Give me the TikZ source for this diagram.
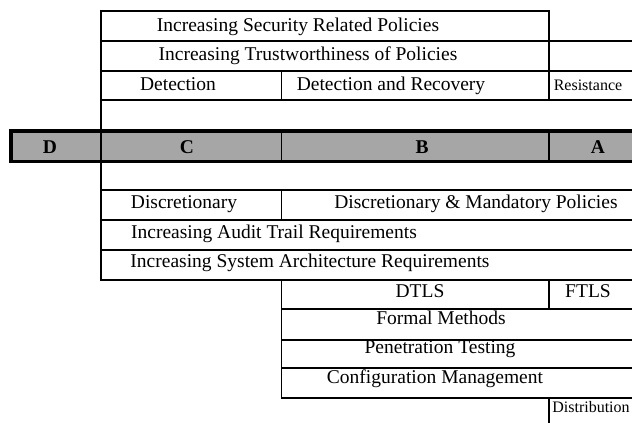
\documentclass[tikz,border=0pt]{standalone}
\usepackage{fontspec}
\setmainfont{Liberation Serif}
\begin{document}
\begin{tikzpicture}[x=1pt,y=-1pt,line width=1.4pt,line cap=rect,
  txt/.style={anchor=base,inner sep=0pt,font=\fontsize{19.5}{20}\selectfont},
  smalltxt/.style={anchor=base,inner sep=0pt,font=\fontsize{16}{17}\selectfont},
  grade/.style={anchor=base,inner sep=0pt,font=\fontsize{19.5}{20}\selectfont\bfseries}]
\useasboundingbox (0,0) rectangle (632,423);

% draw shaded division band
\fill[black!35] (11,131) rectangle (640,161.5);

% draw horizontal rules
\draw (101,11) -- (549,11);
\foreach \y in {41,71,100,190,220,250,280}
{
\draw (101,\y) -- (640,\y);
}
\foreach \y in {309,340,368,398}
{
\draw (281.5,\y) -- (640,\y);
}

% draw vertical rules
\foreach \x/\ya/\yb in {101/11/280, 549/11/100, 281.5/71/100, 281.5/131/161.5,
  549/131/161.5, 281.5/190/220, 281.5/280/398, 549/280/309, 549/398/430}
{
\draw (\x,\ya) -- (\x,\yb);
}

% draw band frame
\draw[line width=3.5pt] (640,131) -- (11,131) -- (11,161.5) -- (640,161.5);

% upper rows
\node[txt] (security) at (298,31) {Increasing Security Related Policies};
\node[txt] (trust) at (308,60) {Increasing Trustworthiness of Policies};
\node[txt] (detect) at (178,90) {Detection};
\node[txt] (recover) at (391,90) {Detection and Recovery};
\node[smalltxt] (resist) at (588,90) {Resistance};

% division letters
\node[grade] (divD) at (50,153) {D};
\node[grade] (divC) at (187,153) {C};
\node[grade] (divB) at (422,153) {B};
\node[grade] (divA) at (598,153) {A};

% lower rows
\node[txt] (discr) at (184,208) {Discretionary};
\node[txt] (mandatory) at (476,208) {Discretionary \& Mandatory Policies};
\node[txt] (audit) at (274,238) {Increasing Audit Trail Requirements};
\node[txt] (arch) at (310,267) {Increasing System Architecture Requirements};
\node[txt] (dtls) at (420,297) {DTLS};
\node[txt] (ftls) at (588,297) {FTLS};
\node[txt] (formal) at (441,324) {Formal Methods};
\node[txt] (pentest) at (440,353) {Penetration Testing};
\node[txt] (config) at (435,383) {Configuration Management};
\node[smalltxt] (distrib) at (591,412) {Distribution};
\end{tikzpicture}
\end{document}
